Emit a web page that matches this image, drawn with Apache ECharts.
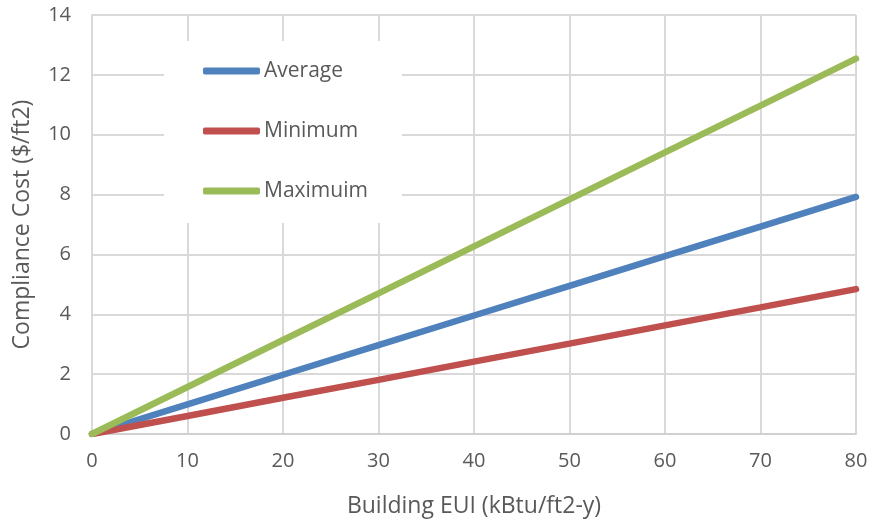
<!DOCTYPE html>
<html>
<head>
<meta charset="utf-8">
<script src="https://cdn.jsdelivr.net/npm/echarts@6/dist/echarts.min.js"></script>
<style>
  html, body { margin: 0; padding: 0; background: #fff; }
  #chart { width: 873px; height: 520px; }
</style>
</head>
<body>
<div id="chart"></div>
<script>
// Building energy use intensity (kBtu/ft2-y)
const eui = [0, 10, 20, 30, 40, 50, 60, 70, 80];
// Compliance cost ($/ft2)
const average = [0, 0.99, 1.98, 2.97, 3.96, 4.95, 5.94, 6.93, 7.92];
const minimum = [0, 0.60, 1.21, 1.81, 2.42, 3.02, 3.63, 4.23, 4.84];
const maximum = [0, 1.57, 3.14, 4.70, 6.27, 7.84, 9.41, 10.97, 12.54];
const seriesNames = ['Average', 'Minimum', 'Maximuim'];
const colors = ['#4f81bd', '#c0504d', '#9bbb59'];

const font = 'Open Sans, Liberation Sans, sans-serif';
const textColor = '#595959';

const pairs = vals => eui.map((x, i) => [x, vals[i]]);

const chart = echarts.init(document.getElementById('chart'));
chart.setOption({
  animation: false,
  color: colors,
  textStyle: { fontFamily: font },
  grid: { left: 92, right: 17, top: 15, bottom: 86, outerBoundsMode: 'none' },
  graphic: [{
    type: 'rect',
    left: 164, top: 41, z: 1,
    shape: { width: 238, height: 182 },
    style: { fill: '#ffffff' }
  }],
  legend: {
    orient: 'vertical',
    left: 203, top: 60,
    itemWidth: 57, itemHeight: 7, itemGap: 38,
    icon: 'roundRect',
    padding: 0,
    textStyle: { color: textColor, fontSize: 21, fontFamily: font, lineHeight: 22, padding: [0, 0, 0, -1] },
    data: seriesNames
  },
  xAxis: {
    type: 'value', min: 0, max: 80, interval: 10,
    name: 'Building EUI (kBtu/ft2-y)', nameLocation: 'middle', nameGap: 61,
    nameTextStyle: { color: textColor, fontSize: 23, fontFamily: font },
    axisLine: { lineStyle: { color: '#d0d0d0', width: 2 } },
    axisTick: { show: false },
    axisLabel: { color: textColor, fontSize: 20, margin: 17, fontFamily: font },
    splitLine: { lineStyle: { color: '#d9d9d9', width: 2 } }
  },
  yAxis: {
    type: 'value', min: 0, max: 14, interval: 2,
    name: 'Compliance Cost ($/ft2)', nameLocation: 'middle', nameGap: 58,
    nameTextStyle: { color: textColor, fontSize: 23, fontFamily: font },
    axisLine: { show: true, lineStyle: { color: '#d9d9d9', width: 2 } },
    axisTick: { show: false },
    axisLabel: { color: textColor, fontSize: 20, margin: 21, fontFamily: font },
    splitLine: { lineStyle: { color: '#d9d9d9', width: 2 } }
  },
  series: [average, minimum, maximum].map((vals, i) => ({
    name: seriesNames[i],
    type: 'line',
    data: pairs(vals),
    showSymbol: false,
    z: 3,
    lineStyle: { width: 6.5, color: colors[i], cap: 'round' },
    itemStyle: { color: colors[i] }
  }))
});
</script>
</body>
</html>
